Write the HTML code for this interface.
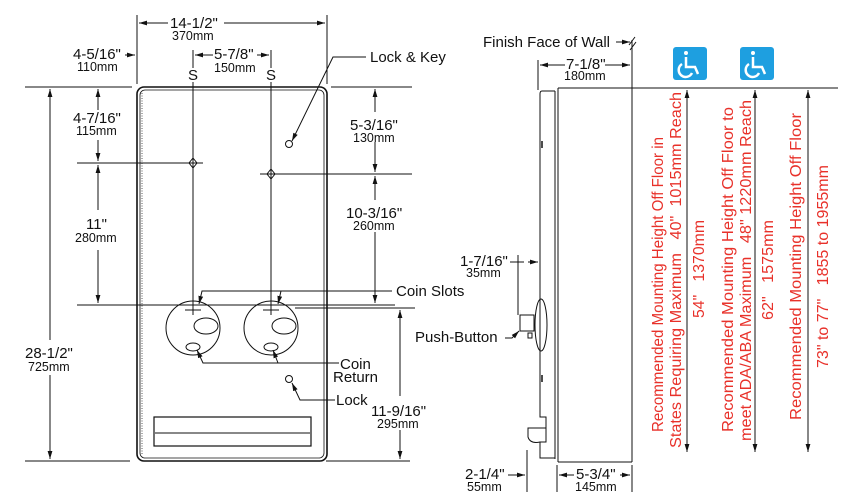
<!DOCTYPE html>
<html><head><meta charset="utf-8"><style>
html,body{margin:0;padding:0;background:#fff}
svg{display:block}
text{font-family:"Liberation Sans",Arial,sans-serif;fill:#111}
.b{font-size:15px}.s{font-size:12.5px}
.r{fill:#e8312a;font-size:15.5px}
</style></head><body>
<svg width="850" height="504" viewBox="0 0 850 504" xmlns="http://www.w3.org/2000/svg">
<defs>
<marker id="a" viewBox="0 0 10 10" refX="10" refY="5" markerWidth="8" markerHeight="8" orient="auto-start-reverse"><path d="M0,2 L10,5 L0,8 z" fill="#111"/></marker>
</defs>
<g stroke="#111" stroke-width="1" fill="none">
<rect x="137" y="87" width="190" height="374" rx="7" stroke-width="1.6"/>
<rect x="140" y="90" width="184" height="368" rx="5" stroke-width="0.8"/>
<line x1="142" y1="93" x2="142" y2="455" stroke-dasharray="1,1.5" stroke="#555"/>
<line x1="25" y1="87" x2="132" y2="87"/>
<line x1="331" y1="87" x2="412" y2="87"/>
<line x1="77" y1="163" x2="203" y2="163"/>
<line x1="260" y1="174" x2="412" y2="174"/>
<line x1="77" y1="305" x2="395" y2="305"/>
<line x1="295" y1="308" x2="415" y2="308"/>
<line x1="25" y1="461" x2="130" y2="461"/>
<line x1="326" y1="461" x2="410" y2="461"/>
<line x1="137" y1="15" x2="137" y2="84"/>
<line x1="327" y1="15" x2="327" y2="84"/>
<line x1="168" y1="23" x2="139" y2="23" marker-end="url(#a)"/>
<line x1="224" y1="23" x2="325" y2="23" marker-end="url(#a)"/>
<line x1="125" y1="55" x2="135" y2="55" marker-end="url(#a)"/>
<line x1="193" y1="50" x2="193" y2="68"/>
<line x1="271" y1="50" x2="271" y2="68"/>
<line x1="213" y1="55" x2="195" y2="55" marker-end="url(#a)"/>
<line x1="257" y1="55" x2="269" y2="55" marker-end="url(#a)"/>
<line x1="193" y1="82" x2="193" y2="315"/>
<line x1="271" y1="82" x2="271" y2="315"/>
<line x1="98" y1="110" x2="98" y2="89" marker-end="url(#a)"/>
<line x1="98" y1="140" x2="98" y2="161" marker-end="url(#a)"/>
<line x1="98" y1="210" x2="98" y2="165" marker-end="url(#a)"/>
<line x1="98" y1="250" x2="98" y2="303" marker-end="url(#a)"/>
<line x1="50" y1="340" x2="50" y2="89" marker-end="url(#a)"/>
<line x1="50" y1="375" x2="50" y2="459" marker-end="url(#a)"/>
<line x1="375" y1="112" x2="375" y2="89" marker-end="url(#a)"/>
<line x1="375" y1="142" x2="375" y2="172" marker-end="url(#a)"/>
<line x1="375" y1="200" x2="375" y2="176" marker-end="url(#a)"/>
<line x1="375" y1="232" x2="375" y2="303" marker-end="url(#a)"/>
<line x1="400" y1="396" x2="400" y2="310" marker-end="url(#a)"/>
<line x1="400" y1="430" x2="400" y2="459" marker-end="url(#a)"/>
<path d="M193,158 l4,5 l-4,5 l-4,-5z M271,169 l4,5 l-4,5 l-4,-5z"/>
<circle cx="193" cy="328" r="27"/><circle cx="271" cy="328" r="27"/>
<ellipse cx="206" cy="326" rx="12" ry="8"/><ellipse cx="284" cy="326" rx="12" ry="8"/>
<ellipse cx="193" cy="347" rx="7" ry="4"/><ellipse cx="271" cy="347" rx="7" ry="4"/>
<path d="M185,310 h16 M263,310 h16"/>
<circle cx="289" cy="144" r="3.5"/><circle cx="289" cy="379" r="3.5"/>
<rect x="154" y="417" width="157" height="29" stroke-width="1.2"/>
<line x1="155" y1="433" x2="310" y2="433"/>
<path d="M366,57 H333 L292,141" marker-end="url(#a)" fill="none"/>
<path d="M392,291 H202 L199,304" marker-end="url(#a)"/>
<path d="M281,291 L278,304" marker-end="url(#a)"/>
<path d="M339,363 H203 L197,350" marker-end="url(#a)"/>
<path d="M278,363 L273,350" marker-end="url(#a)"/>
<path d="M335,400 H300 L292,383" marker-end="url(#a)"/>
<line x1="632" y1="40" x2="632" y2="462"/>
<path d="M629,45 l6,-8 M630,50 l6,-8"/>
<line x1="632" y1="88" x2="838" y2="88"/>
<line x1="558" y1="88" x2="632" y2="88"/>
<line x1="558" y1="462" x2="632" y2="462"/>
<line x1="558" y1="88" x2="558" y2="462"/>
<line x1="555" y1="91" x2="555" y2="459"/>
<path d="M555,91 H542 Q540,91 540,94 V417 H546 V442 H540 V458 H555"/>
<path d="M546,428 H528 V437 Q530,444 540,442"/>
<ellipse cx="541" cy="325" rx="6" ry="26"/>
<rect x="520" y="315" width="14" height="16"/>
<rect x="528" y="333" width="4" height="5"/>
<line x1="542" y1="141" x2="542" y2="148" stroke-width="1.5"/>
<line x1="542" y1="375" x2="542" y2="382" stroke-width="1.5"/>
<line x1="538" y1="60" x2="538" y2="90"/>
<line x1="565" y1="65" x2="540" y2="65" marker-end="url(#a)"/>
<line x1="605" y1="65" x2="630" y2="65" marker-end="url(#a)"/>
<line x1="616" y1="42" x2="630" y2="42" marker-end="url(#a)"/>
<line x1="518" y1="255" x2="518" y2="315"/>
<line x1="510" y1="262" x2="524" y2="262"/>
<line x1="528" y1="262" x2="538" y2="262" marker-end="url(#a)"/>
<path d="M505,338 H512 L519,331" marker-end="url(#a)"/>
<line x1="527" y1="450" x2="527" y2="492"/>
<line x1="557" y1="465" x2="557" y2="492"/>
<line x1="632" y1="465" x2="632" y2="492"/>
<line x1="508" y1="475" x2="525" y2="475" marker-end="url(#a)"/>
<line x1="574" y1="475" x2="559" y2="475" marker-end="url(#a)"/>
<line x1="620" y1="475" x2="630" y2="475" marker-end="url(#a)"/>
<line x1="687" y1="90" x2="687" y2="452" marker-start="url(#a)" marker-end="url(#a)"/>
<line x1="755" y1="90" x2="755" y2="452" marker-start="url(#a)" marker-end="url(#a)"/>
<line x1="808" y1="90" x2="808" y2="452" marker-start="url(#a)" marker-end="url(#a)"/>
</g>
<g>
<rect x="673" y="47" width="34" height="33" rx="3" fill="#1e9fe0"/>
<rect x="740" y="47" width="34" height="33" rx="3" fill="#1e9fe0"/>
<g fill="none" stroke="#fff" stroke-width="2.5">
<circle cx="686" cy="53" r="2" fill="#fff" stroke="none"/>
<path d="M686,57 V67 H695 L698,74 M682,64 A7,7 0 1 0 692,73"/>
<circle cx="753" cy="53" r="2" fill="#fff" stroke="none"/>
<path d="M753,57 V67 H762 L765,74 M749,64 A7,7 0 1 0 759,73"/>
</g>
</g>
<text class="b" x="170" y="28">14-1/2"</text><text class="s" x="172" y="40">370mm</text>
<text class="b" x="73" y="59">4-5/16"</text><text class="s" x="77" y="71">110mm</text>
<text class="b" x="214" y="59">5-7/8"</text><text class="s" x="214" y="72">150mm</text>
<text class="b" x="188" y="80">S</text><text class="b" x="266" y="80">S</text>
<text class="b" x="73" y="123">4-7/16"</text><text class="s" x="76" y="135">115mm</text>
<text class="b" x="86" y="229">11"</text><text class="s" x="75" y="242">280mm</text>
<text class="b" x="25" y="358">28-1/2"</text><text class="s" x="28" y="371">725mm</text>
<text class="b" x="350" y="130">5-3/16"</text><text class="s" x="353" y="142">130mm</text>
<text class="b" x="346" y="218">10-3/16"</text><text class="s" x="353" y="230">260mm</text>
<text class="b" x="371" y="416">11-9/16"</text><text class="s" x="377" y="428">295mm</text>
<text class="b" x="370" y="62">Lock &amp; Key</text>
<text class="b" x="396" y="296">Coin Slots</text>
<text class="b" x="340" y="369">Coin</text><text class="b" x="333" y="382">Return</text>
<text class="b" x="336" y="405">Lock</text>
<text class="b" x="415" y="342">Push-Button</text>
<text class="b" x="483" y="47">Finish Face of Wall</text>
<text class="b" x="566" y="69">7-1/8"</text><text class="s" x="564" y="80">180mm</text>
<text class="b" x="460" y="266">1-7/16"</text><text class="s" x="466" y="277">35mm</text>
<text class="b" x="465" y="479">2-1/4"</text><text class="s" x="467" y="491">55mm</text>
<text class="b" x="576" y="479">5-3/4"</text><text class="s" x="575" y="491">145mm</text>
<g class="r">
<text class="r" transform="translate(663,432) rotate(-90)" textLength="295" lengthAdjust="spacingAndGlyphs">Recommended Mounting Height Off Floor in</text>
<text class="r" transform="translate(681,448) rotate(-90)" textLength="356" lengthAdjust="spacingAndGlyphs">States Requiring Maximum&#160;&#160;&#160;40"&#160;&#160;1015mm Reach</text>
<text class="r" transform="translate(704,318) rotate(-90)" textLength="98" lengthAdjust="spacingAndGlyphs">54"&#160;&#160;&#160;1370mm</text>
<text class="r" transform="translate(733,432) rotate(-90)" textLength="325" lengthAdjust="spacingAndGlyphs">Recommended Mounting Height Off Floor to</text>
<text class="r" transform="translate(751,441) rotate(-90)" textLength="341" lengthAdjust="spacingAndGlyphs">meet ADA/ABA Maximum&#160;&#160;&#160;48" 1220mm Reach</text>
<text class="r" transform="translate(773,320) rotate(-90)" textLength="100" lengthAdjust="spacingAndGlyphs">62"&#160;&#160;&#160;1575mm</text>
<text class="r" transform="translate(801,420) rotate(-90)" textLength="307" lengthAdjust="spacingAndGlyphs">Recommended Mounting Height Off Floor</text>
<text class="r" transform="translate(828,368) rotate(-90)" textLength="203" lengthAdjust="spacingAndGlyphs">73" to 77"&#160;&#160;&#160;1855 to 1955mm</text>
</g>
</svg>
</body></html>
